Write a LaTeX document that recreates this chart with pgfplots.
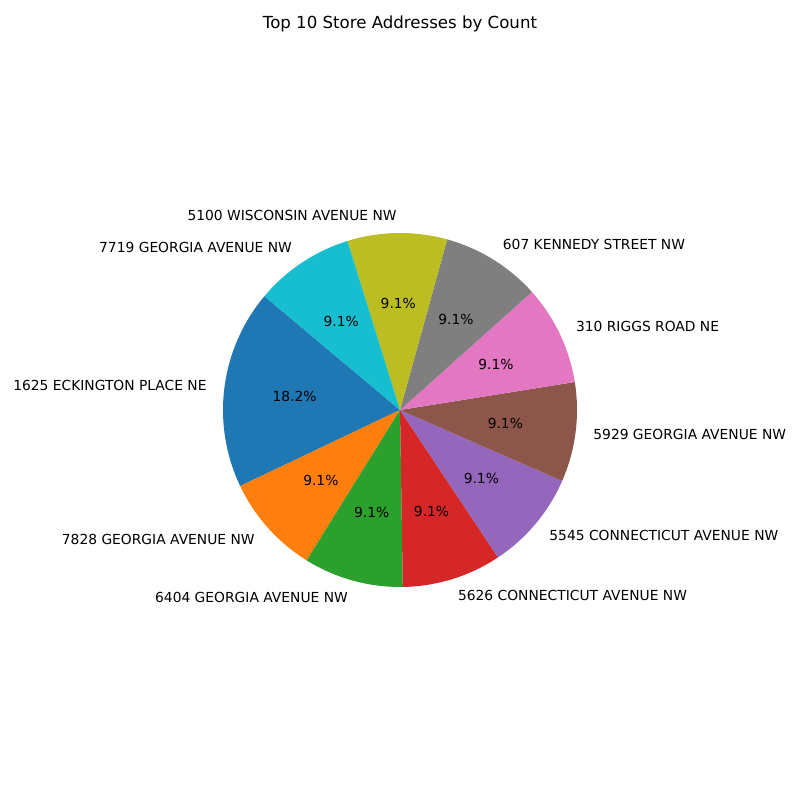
\documentclass[border=0pt]{standalone}
\usepackage{pgfplots}
\pgfplotsset{compat=1.18}
\usepackage{fontspec}
\setmainfont{DejaVu Sans}
\definecolor{c0}{HTML}{1F77B4}
\definecolor{c1}{HTML}{FF7F0E}
\definecolor{c2}{HTML}{2CA02C}
\definecolor{c3}{HTML}{D62728}
\definecolor{c4}{HTML}{9467BD}
\definecolor{c5}{HTML}{8C564B}
\definecolor{c6}{HTML}{E377C2}
\definecolor{c7}{HTML}{7F7F7F}
\definecolor{c8}{HTML}{BCBD22}
\definecolor{c9}{HTML}{17BECF}
\newcommand\lbl{\fontsize{10}{12}\selectfont}
\def\total{11}
% #1 cumulative count before slice, #2 count, #3 colour, #4 label
\newcommand\slice[4]{%
 \pgfmathsetmacro\aS{140+360*#1/\total}%
 \pgfmathsetmacro\aE{140+360*(#1+#2)/\total}%
 \pgfmathsetmacro\aM{(\aS+\aE)/2}%
 \pgfmathsetmacro\lx{1.1*cos(\aM)}%
 \pgfmathsetmacro\ly{1.1*sin(\aM)}%
 \pgfmathsetmacro\px{0.6*cos(\aM)}%
 \pgfmathsetmacro\py{0.6*sin(\aM)}%
 \pgfmathsetmacro\pct{100*#2/\total}%
 \ifdim\lx pt<0pt \def\anc{east}\else\def\anc{west}\fi
 \edef\tmp{\noexpand\addplot[fill=#3, draw=none, domain=\aS:\aE, samples=80] ({cos(x)},{sin(x)}) -- (axis cs:0,0) -- cycle;}%
 \tmp
 \edef\tmp{\noexpand\node[anchor=\anc, inner sep=0pt, font=\noexpand\lbl] at (axis cs:\lx,\ly) {\unexpanded{#4}};}%
 \tmp
 \edef\tmp{\noexpand\node[inner sep=0pt, font=\noexpand\lbl] at (axis cs:\px,\py) {\noexpand\pgfmathprintnumber[fixed, precision=1, fixed zerofill, assume math mode=true]{\pct}\noexpand\%};}%
 \tmp
}
\begin{document}
\begin{tikzpicture}
\begin{axis}[
  width=8in, height=8in, scale only axis,
  hide axis, clip=false,
  xmin=-2.25989, xmax=2.25989,
  ymin=-2.20339, ymax=2.31638,
]
\path (rel axis cs:0,0) rectangle (rel axis cs:1,1);
\slice{0}{2}{c0}{1625 ECKINGTON PLACE NE}
\slice{2}{1}{c1}{7828 GEORGIA AVENUE NW}
\slice{3}{1}{c2}{6404 GEORGIA AVENUE NW}
\slice{4}{1}{c3}{5626 CONNECTICUT AVENUE NW}
\slice{5}{1}{c4}{5545 CONNECTICUT AVENUE NW}
\slice{6}{1}{c5}{5929 GEORGIA AVENUE NW}
\slice{7}{1}{c6}{310 RIGGS ROAD NE}
\slice{8}{1}{c7}{607 KENNEDY STREET NW}
\slice{9}{1}{c8}{5100 WISCONSIN AVENUE NW}
\slice{10}{1}{c9}{7719 GEORGIA AVENUE NW}
\node[font=\fontsize{12}{14}\selectfont] at (axis cs:0,2.181) {Top 10 Store Addresses by Count};
\end{axis}
\end{tikzpicture}
\end{document}
